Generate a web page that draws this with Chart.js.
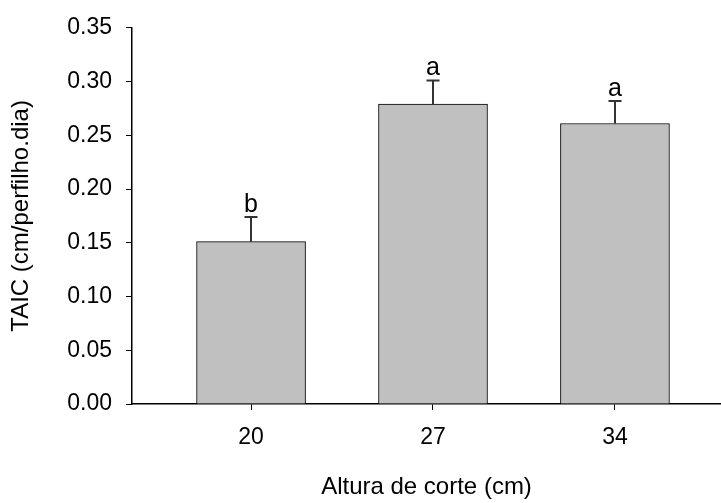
<!DOCTYPE html>
<html>
<head>
<meta charset="utf-8">
<script src="https://cdn.jsdelivr.net/npm/chart.js@4"></script>
<style>
  body { margin: 0; background: #fff; }
  #wrap { width: 721px; height: 503px; position: relative; }
</style>
</head>
<body>
<div id="wrap"><canvas id="taicChart"></canvas></div>
<script>
// Altura de corte (cm) and TAIC values
const heights = [20, 27, 34];
const taic = [0.151, 0.279, 0.261];
const taicErr = [0.023, 0.022, 0.021];
const letters = ["b", "a", "a"];
const yTicks = [0, 0.05, 0.10, 0.15, 0.20, 0.25, 0.30, 0.35];

const FONT = "'Liberation Sans', Arial, Helvetica, sans-serif";

// error bars (upper only) and significance letters
const errorBars = {
    id: "errorBars",
    afterDatasetsDraw(chart) {
        const ctx = chart.ctx;
        const xs = chart.scales.x, ys = chart.scales.y;
        ctx.save();
        ctx.strokeStyle = "#333";
        ctx.lineWidth = 2;
        ctx.fillStyle = "#000";
        ctx.font = "25px " + FONT;
        ctx.textAlign = "center";
        ctx.textBaseline = "alphabetic";
        heights.forEach((h, i) => {
            const x = Math.round(xs.getPixelForValue(h));
            const yTop = ys.getPixelForValue(taic[i]);
            const yCap = ys.getPixelForValue(taic[i] + taicErr[i]);
            ctx.beginPath();
            ctx.moveTo(x, yTop);
            ctx.lineTo(x, yCap);
            ctx.moveTo(x - 6.5, yCap);
            ctx.lineTo(x + 6.5, yCap);
            ctx.stroke();
            ctx.fillText(letters[i], x, yCap - 5);
        });
        ctx.restore();
    }
};

const ctx = document.getElementById("taicChart").getContext("2d");
new Chart(ctx, {
    type: "bar",
    data: {
        datasets: [{
            data: heights.map((h, i) => ({ x: h, y: taic[i] })),
            backgroundColor: "#c0c0c0",
            borderColor: "#000",
            borderWidth: 1,
            barThickness: 109
        }]
    },
    options: {
        responsive: true,
        maintainAspectRatio: false,
        animation: false,
        layout: { padding: { top: 26, right: 0, bottom: 0, left: 0 } },
        plugins: {
            legend: { display: false },
            tooltip: { enabled: false }
        },
        scales: {
            x: {
                type: "linear",
                min: 15.42,
                max: 38.08,
                offset: false,
                afterBuildTicks: scale => { scale.ticks = heights.map(v => ({ value: v })); },
                afterFit: scale => { scale.height = 99; },
                grid: { offset: false, drawOnChartArea: false, drawTicks: true, tickLength: 6, color: "#000" },
                border: { display: true, color: "#000", width: 1.5 },
                ticks: {
                    color: "#000",
                    padding: 14,
                    maxRotation: 0,
                    font: { family: FONT, size: 23 },
                    callback: v => String(v)
                },
                title: {
                    display: true,
                    text: "Altura de corte (cm)",
                    color: "#000",
                    padding: { top: 0, bottom: 1 },
                    font: { family: FONT, size: 24 }
                }
            },
            y: {
                min: 0,
                max: 0.35,
                afterBuildTicks: scale => { scale.ticks = yTicks.map(v => ({ value: v })); },
                afterFit: scale => { scale.width = 132; },
                grid: { drawOnChartArea: false, drawTicks: true, tickLength: 6, color: "#000" },
                border: { display: true, color: "#000", width: 1.5 },
                ticks: {
                    color: "#000",
                    padding: 14,
                    font: { family: FONT, size: 23 },
                    callback: v => Number(v).toFixed(2)
                },
                title: {
                    display: true,
                    text: "TAIC (cm/perfilho.dia)",
                    color: "#000",
                    padding: { top: 7, bottom: 0 },
                    font: { family: FONT, size: 24 }
                }
            }
        }
    },
    plugins: [errorBars]
});
</script>
</body>
</html>
